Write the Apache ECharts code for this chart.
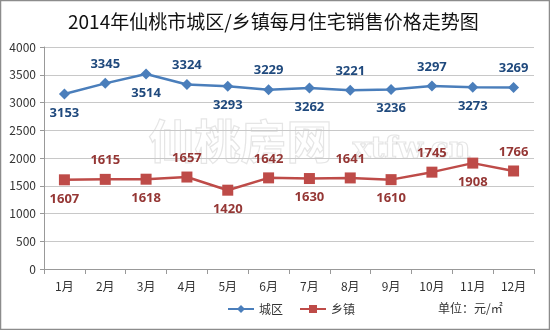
<!DOCTYPE html>
<html><head><meta charset="utf-8">
<script src="https://cdn.jsdelivr.net/npm/echarts@6/dist/echarts.min.js"></script>
<style>html,body{margin:0;padding:0;background:#fff}#c{width:550px;height:330px}</style>
</head><body><div id="c"></div>
<script>
var categories = ['1月','2月','3月','4月','5月','6月','7月','8月','9月','10月','11月','12月'];
var cityValues = [3153,3345,3514,3324,3293,3229,3262,3221,3236,3297,3273,3269];
var townValues = [1607,1615,1618,1657,1420,1642,1630,1641,1610,1745,1908,1766];
var cityLabelPos = ['bottom','top','bottom','top','bottom','top','bottom','top','bottom','top','bottom','top'];
var townLabelPos = ['bottom','top','bottom','top','bottom','top','bottom','top','bottom','top','bottom','top'];

var font = '"Microsoft YaHei","Noto Sans CJK SC",sans-serif';
function mk(vals, pos){
  return vals.map(function(v,i){
    return {value:v, label:{position:pos[i], distance: 7}};
  });
}
var chart = echarts.init(document.getElementById('c'));
chart.setOption({
  animation:false,
  graphic:[
    {type:'rect', shape:{x:0.5,y:0.5,width:549,height:329}, style:{fill:'none', stroke:'#8c8c8c', lineWidth:1.5}},
    {type:'text', left:148, top:117, z:0, style:{text:'仙桃房网', font:'bold 46px "Noto Sans CJK SC"', fill:'rgba(255,255,255,0)', stroke:'rgba(170,170,170,0.3)', lineWidth:1.2}},
    {type:'text', left:352, top:135, z:0, style:{text:'xtfw.cn', font:'bold 30px "DejaVu Serif"', fill:'rgba(255,255,255,0)', stroke:'rgba(170,170,170,0.3)', lineWidth:1.2}},
    {type:'text', left:438, top:302, style:{text:'单位：元/㎡', font:'12px '+font, fill:'#333'}}
  ],
  title:{text:'2014年仙桃市城区/乡镇每月住宅销售价格走势图', left:63, top:7,
    textStyle:{fontSize:19, fontWeight:'normal', color:'#111', fontFamily:font}},
  legend:{bottom:10, left:222, itemWidth:26, itemHeight:10, itemGap:16,
    textStyle:{fontSize:12, color:'#333', fontFamily:font},
    data:['城区','乡镇']},
  grid:{left:44, right:16, top:47, bottom:61},
  xAxis:{type:'category', data:categories, boundaryGap:true,
    axisLine:{lineStyle:{color:'#999'}}, axisTick:{show:true, length:5, lineStyle:{color:'#999'}},
    axisLabel:{fontSize:12, color:'#333', margin:11, fontFamily:font}},
  yAxis:{type:'value', min:0, max:4000, interval:500,
    axisLine:{show:true, lineStyle:{color:'#999'}}, axisTick:{show:true, length:4, lineStyle:{color:'#999'}},
    axisLabel:{fontSize:12, color:'#333', fontFamily:font, formatter:function(v){return String(v);}},
    splitLine:{lineStyle:{color:'#c8c8c8'}}},
  series:[
    {name:'城区', type:'line', data:mk(cityValues, cityLabelPos), symbol:'diamond', symbolSize:11,
     lineStyle:{color:'#4a7ebb', width:2.5}, itemStyle:{color:'#4a7ebb'},
     label:{show:true, fontSize:13, fontWeight:'bold', color:'#1f497d', fontFamily:'"Open Sans",sans-serif'}},
    {name:'乡镇', type:'line', data:mk(townValues, townLabelPos), symbol:'rect', symbolSize:11,
     lineStyle:{color:'#be4b48', width:2.5}, itemStyle:{color:'#be4b48'},
     label:{show:true, fontSize:13, fontWeight:'bold', color:'#953735', fontFamily:'"Open Sans",sans-serif'}}
  ]
});
</script></body></html>
